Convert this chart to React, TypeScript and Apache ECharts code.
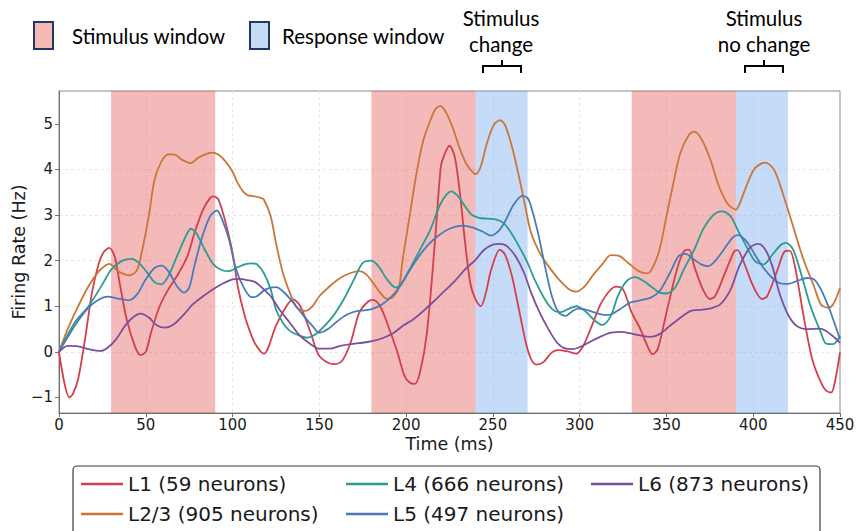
import React, { useEffect, useRef } from "react";
import * as echarts from "echarts";

const seriesNames = [
  "L1 (59 neurons)",
  "L2/3 (905 neurons)",
  "L4 (666 neurons)",
  "L5 (497 neurons)",
  "L6 (873 neurons)",
];
const seriesColors = ["#d2404b", "#cc7636", "#2a9d8f", "#4a7ab9", "#7b4f9e"];

const xTicks = [0, 50, 100, 150, 200, 250, 300, 350, 400, 450];
const yTicks = [-1, 0, 1, 2, 3, 4, 5];

const stimulusWindows = [
  [30, 90],
  [180, 240],
  [330, 390],
];
const responseWindows = [
  [240, 270],
  [390, 420],
];

const l1 = [
  [0, 0], [6, -1.0], [8, -0.92], [11, -0.6], [15, 0.28], [19, 1.3], [23, 1.95], [26, 2.2], [29, 2.28],
  [32, 2.1], [35, 1.5], [39, 0.71], [44, 0.1], [47, -0.07], [50, 0.0], [53, 0.42], [58, 1.0], [63, 1.37],
  [69, 1.73], [74, 2.1], [78, 2.6], [83, 3.12], [87, 3.37], [89, 3.41], [92, 3.33], [96, 2.83], [100, 2.17],
  [103, 1.44], [107, 0.79], [110, 0.45], [113, 0.18], [118, -0.04], [125, 0.57], [131, 1.0], [135, 1.15],
  [139, 1.0], [145, 0.42], [150, -0.09], [158, -0.27], [163, -0.2], [168, 0.2], [173, 0.86], [178, 1.1],
  [181, 1.14], [185, 1.0], [189, 0.64], [195, -0.01], [199, -0.52], [202, -0.67], [205, -0.7], [208, -0.45],
  [212, 0.42], [217, 2.6], [220, 4.06], [222, 4.32], [225, 4.52], [228, 4.28], [231, 3.48], [234, 2.39],
  [237, 1.5], [240, 1.15], [243, 1.0], [246, 1.3], [249, 1.8], [254, 2.24], [257, 2.13], [261, 1.66],
  [265, 0.93], [269, 0.2], [272, -0.16], [275, -0.28], [279, -0.23], [284, -0.01], [288, 0.04], [293, 0.01],
  [298, -0.04], [302, 0.13], [307, 0.57], [312, 1.04], [317, 1.33], [321, 1.43], [325, 1.37], [330, 0.86],
  [335, 0.5], [339, 0.13], [342, -0.05], [345, 0.06], [350, 0.86], [356, 1.8], [360, 2.2], [363, 2.24],
  [366, 1.88], [371, 1.37], [375, 1.16], [378, 1.22], [383, 1.66], [389, 2.2], [391, 2.23], [394, 2.02],
  [400, 1.44], [405, 1.16], [408, 1.22], [414, 1.8], [418, 2.2], [421, 2.22], [424, 1.88], [429, 0.79],
  [434, -0.16], [439, -0.67], [442, -0.85], [445, -0.89], [447, -0.67], [450, -0.01],
];

const l23 = [
  [0, 0], [5, 0.5], [11, 1.0], [17, 1.44], [23, 1.77], [27, 1.9], [29, 1.93], [34, 1.77], [38, 1.7],
  [41, 1.68], [45, 1.8], [48, 2.24], [52, 3.04], [55, 3.77], [59, 4.17], [63, 4.33], [66, 4.33], [71, 4.21],
  [76, 4.14], [80, 4.25], [85, 4.34], [88, 4.37], [92, 4.32], [96, 4.17], [100, 3.95], [103, 3.7], [106, 3.52],
  [109, 3.43], [113, 3.41], [116, 3.38], [118, 3.34], [122, 2.97], [125, 2.39], [129, 1.73], [133, 1.3],
  [137, 0.97], [142, 0.9], [146, 1.0], [150, 1.22], [156, 1.44], [162, 1.62], [168, 1.73], [173, 1.77],
  [177, 1.7], [181, 1.51], [185, 1.3], [189, 1.16], [193, 1.22], [196, 1.44], [198, 2.02], [202, 2.97],
  [206, 3.92], [210, 4.65], [214, 5.08], [217, 5.33], [220, 5.39], [223, 5.25], [227, 4.9], [231, 4.45],
  [235, 4.1], [239, 3.92], [240, 3.9], [243, 4.06], [246, 4.5], [250, 4.94], [254, 5.08], [257, 4.97],
  [261, 4.5], [265, 3.85], [269, 3.12], [272, 2.61], [277, 2.17], [282, 1.88], [288, 1.59], [294, 1.37],
  [298, 1.32], [303, 1.44], [308, 1.7], [313, 1.92], [318, 2.12], [323, 2.1], [328, 1.95], [334, 1.77],
  [339, 1.72], [342, 1.84], [346, 2.24], [350, 2.97], [354, 3.7], [358, 4.36], [363, 4.76], [366, 4.83],
  [370, 4.68], [375, 4.25], [380, 3.66], [385, 3.26], [390, 3.12], [392, 3.23], [396, 3.63], [401, 4.03],
  [407, 4.15], [412, 3.99], [417, 3.48], [423, 2.75], [429, 2.02], [435, 1.44], [439, 1.04], [443, 0.97],
  [446, 1.04], [450, 1.4],
];

const l4 = [
  [0, 0], [9, 0.64], [17, 1.0], [25, 1.48], [30, 1.8], [36, 1.99], [42, 2.04], [46, 1.95], [51, 1.73],
  [55, 1.53], [59, 1.48], [63, 1.66], [68, 2.1], [73, 2.53], [76, 2.7], [79, 2.61], [84, 2.24], [89, 1.92],
  [94, 1.79], [98, 1.77], [102, 1.84], [107, 1.92], [111, 1.94], [114, 1.92], [118, 1.73], [122, 1.37],
  [125, 0.93], [129, 0.64], [133, 0.46], [139, 0.35], [143, 0.31], [148, 0.39], [152, 0.53], [158, 0.79],
  [164, 1.15], [170, 1.59], [175, 1.95], [180, 2.0], [184, 1.88], [189, 1.59], [194, 1.41], [197, 1.48],
  [202, 1.81], [208, 2.24], [214, 2.68], [220, 3.26], [226, 3.52], [230, 3.41], [234, 3.19], [238, 3.0],
  [242, 2.94], [247, 2.92], [252, 2.9], [256, 2.83], [260, 2.64], [265, 2.32], [270, 1.95], [274, 1.59],
  [280, 1.15], [285, 0.91], [289, 0.87], [294, 0.95], [298, 1.0], [303, 0.9], [308, 0.71], [313, 0.59],
  [318, 0.79], [322, 1.22], [327, 1.55], [332, 1.64], [337, 1.55], [341, 1.44], [346, 1.3], [350, 1.28],
  [355, 1.41], [360, 1.81], [366, 2.24], [371, 2.68], [377, 3.0], [382, 3.08], [387, 2.97], [391, 2.68],
  [396, 2.32], [401, 1.99], [406, 1.92], [411, 2.13], [416, 2.35], [419, 2.39], [423, 2.24], [428, 1.66],
  [433, 1.0], [439, 0.42], [442, 0.18], [446, 0.17], [450, 0.35],
];

const l5 = [
  [0, 0], [9, 0.57], [17, 0.97], [23, 1.15], [28, 1.21], [34, 1.17], [40, 1.13], [45, 1.26], [50, 1.59],
  [55, 1.84], [59, 1.89], [63, 1.77], [68, 1.44], [72, 1.3], [75, 1.41], [78, 1.88], [82, 2.46], [87, 2.97],
  [91, 3.1], [94, 2.9], [98, 2.46], [102, 1.81], [107, 1.37], [111, 1.2], [114, 1.22], [119, 1.37],
  [125, 1.42], [129, 1.33], [135, 1.08], [141, 0.79], [146, 0.57], [150, 0.42], [155, 0.5], [160, 0.66],
  [166, 0.82], [172, 0.9], [176, 0.91], [181, 0.95], [186, 1.04], [191, 1.19], [196, 1.41], [200, 1.66],
  [206, 2.02], [212, 2.32], [218, 2.53], [225, 2.7], [233, 2.77], [238, 2.73], [244, 2.64], [249, 2.55],
  [253, 2.64], [257, 2.86], [262, 3.23], [267, 3.42], [270, 3.37], [272, 3.19], [276, 2.61], [280, 1.88],
  [284, 1.22], [288, 0.86], [292, 0.79], [295, 0.87], [299, 0.95], [303, 0.93], [309, 0.86], [315, 0.81],
  [318, 0.82], [323, 0.93], [329, 1.08], [335, 1.13], [341, 1.19], [346, 1.33], [352, 1.73], [357, 2.1],
  [361, 2.15], [366, 2.02], [370, 1.92], [374, 1.88], [378, 1.99], [383, 2.24], [388, 2.5], [391, 2.56],
  [396, 2.43], [401, 2.13], [406, 1.84], [411, 1.62], [415, 1.51], [420, 1.49], [425, 1.55], [431, 1.62],
  [435, 1.59], [439, 1.37], [444, 0.93], [448, 0.5], [450, 0.28],
];

const l6 = [
  [0, 0], [5, 0.13], [11, 0.12], [17, 0.06], [24, 0.02], [28, 0.09], [33, 0.28], [38, 0.57], [43, 0.77],
  [47, 0.84], [52, 0.75], [56, 0.59], [61, 0.53], [66, 0.6], [72, 0.82], [77, 1.04], [83, 1.22], [89, 1.38],
  [95, 1.51], [100, 1.59], [104, 1.6], [109, 1.57], [113, 1.53], [116, 1.44], [122, 1.22], [127, 0.93],
  [133, 0.64], [139, 0.35], [145, 0.17], [150, 0.07], [156, 0.07], [162, 0.13], [168, 0.17], [175, 0.2],
  [181, 0.24], [187, 0.31], [193, 0.42], [198, 0.57], [204, 0.71], [210, 0.9], [216, 1.11], [222, 1.33],
  [228, 1.55], [234, 1.81], [240, 2.02], [245, 2.24], [250, 2.35], [254, 2.37], [258, 2.32], [263, 2.1],
  [268, 1.73], [272, 1.3], [277, 0.86], [282, 0.5], [287, 0.2], [292, 0.07], [296, 0.06], [301, 0.12],
  [307, 0.24], [313, 0.35], [318, 0.42], [324, 0.44], [330, 0.4], [336, 0.35], [341, 0.33], [346, 0.39],
  [352, 0.57], [358, 0.75], [364, 0.9], [369, 0.92], [375, 0.95], [381, 1.04], [387, 1.37], [392, 1.88],
  [398, 2.28], [403, 2.37], [407, 2.24], [411, 1.88], [415, 1.3], [420, 0.82], [425, 0.57], [431, 0.5],
  [438, 0.51], [442, 0.46], [447, 0.31], [450, 0.2],
];

const seriesData = [l1, l23, l4, l5, l6];

const FONT = "DejaVu Sans";
const NOTE_FONT = "Lato";

export default function App() {
  const ref = useRef<HTMLDivElement>(null);

  useEffect(() => {
    if (!ref.current) return;
    const chart = echarts.init(ref.current, undefined, { renderer: "svg" });

    const lineSeries: any[] = seriesNames.map((name, i) => ({
      name,
      type: "line",
      data: seriesData[i],
      showSymbol: false,
      symbol: "none",
      smooth: 0.3,
      lineStyle: { color: seriesColors[i], width: 1.8 },
      itemStyle: { color: seriesColors[i] },
      z: 3,
    }));

    const bandSeries = {
      name: "bands",
      type: "line",
      data: [],
      silent: true,
      markArea: {
        silent: true,
        data: [
          ...stimulusWindows.map((w) => [
            { xAxis: w[0], itemStyle: { color: "rgba(226,82,80,0.4)" } },
            { xAxis: w[1] },
          ]),
          ...responseWindows.map((w) => [
            { xAxis: w[0], itemStyle: { color: "rgba(110,165,235,0.4)" } },
            { xAxis: w[1] },
          ]),
        ],
      },
      z: 2,
    };

    const noteText = (text: string, x: number, y: number, align: string) => ({
      type: "text",
      x,
      y,
      style: {
        text,
        fill: "#000",
        fontFamily: NOTE_FONT,
        fontSize: 20.5,
        align,
        verticalAlign: "middle",
      },
    });

    const bracket = (x1: number, x2: number) => [
      {
        type: "polyline",
        shape: { points: [[x1, 73], [x1, 66], [x2, 66], [x2, 73]] },
        style: { stroke: "#000", lineWidth: 2, fill: null },
      },
      {
        type: "line",
        shape: { x1: (x1 + x2) / 2, y1: 66, x2: (x1 + x2) / 2, y2: 60 },
        style: { stroke: "#000", lineWidth: 2 },
      },
    ];

    const legendPos = [
      [81, 474],
      [81, 504],
      [346, 474],
      [346, 504],
      [591, 474],
    ];
    const legends = seriesNames.map((name, i) => ({
      orient: "horizontal",
      icon: "rect",
      itemWidth: 42,
      itemHeight: 2.5,
      left: legendPos[i][0],
      top: legendPos[i][1],
      padding: 0,
      data: [name],
      textStyle: { fontFamily: FONT, fontSize: 20, color: "#1a1a1a" },
      selectedMode: false,
    }));

    chart.setOption({
      animation: false,
      backgroundColor: "#ffffff",
      grid: {
        left: 59,
        right: 17,
        top: 91,
        bottom: 118,
        show: true,
        borderColor: "#8a8a8a",
        borderWidth: 1,
        backgroundColor: "transparent",
        containLabel: false,
        outerBoundsMode: "none",
      },
      xAxis: {
        type: "value",
        min: 0,
        max: 450,
        interval: 50,
        name: "Time (ms)",
        nameLocation: "middle",
        nameGap: 22,
        nameMoveOverlap: false,
        nameTextStyle: { fontFamily: FONT, fontSize: 17.5, color: "#1a1a1a" },
        axisLine: { show: true, onZero: false, lineStyle: { color: "#6e6e6e", width: 1 } },
        axisTick: { show: true, length: 4, lineStyle: { color: "#6e6e6e" } },
        axisLabel: {
          fontFamily: FONT,
          fontSize: 15,
          color: "#1a1a1a",
          margin: 4,
          customValues: xTicks,
        },
        splitLine: {
          show: true,
          showMinLine: false,
          showMaxLine: false,
          lineStyle: { color: "#e8e8e8", type: [3, 3], width: 1 },
        },
      },
      yAxis: {
        type: "value",
        min: -1.34,
        max: 5.72,
        splitNumber: 7,
        name: "Firing Rate (Hz)",
        nameLocation: "middle",
        nameGap: 31,
        nameMoveOverlap: false,
        nameTextStyle: { fontFamily: FONT, fontSize: 17.5, color: "#1a1a1a" },
        axisLine: { show: true, onZero: false, lineStyle: { color: "#6e6e6e", width: 1 } },
        axisTick: { show: true, length: 4, lineStyle: { color: "#6e6e6e" }, customValues: yTicks },
        axisLabel: {
          fontFamily: FONT,
          fontSize: 15,
          color: "#1a1a1a",
          margin: 6,
          customValues: yTicks,
          formatter: (v: number) => String(v).replace("-", "\u2212"),
        },
        splitLine: {
          show: true,
          showMinLine: false,
          showMaxLine: false,
          lineStyle: { color: "#e8e8e8", type: [3, 3], width: 1 },
        },
      },
      legend: legends,
      graphic: [
        {
          type: "rect",
          shape: { x: 73, y: 466, width: 747, height: 80, r: 4 },
          style: { fill: "#fff", stroke: "#3a3a3a", lineWidth: 1.2 },
          z: -1,
        },
        {
          type: "rect",
          shape: { x: 34, y: 22, width: 19, height: 27 },
          style: { fill: "#f4b9b5", stroke: "#1f3864", lineWidth: 2 },
        },
        noteText("Stimulus window", 72, 36, "left"),
        {
          type: "rect",
          shape: { x: 250, y: 22, width: 19, height: 27 },
          style: { fill: "#c5dbf4", stroke: "#1f3864", lineWidth: 2 },
        },
        noteText("Response window", 282, 36, "left"),
        noteText("Stimulus", 501, 18, "center"),
        noteText("change", 501, 44, "center"),
        noteText("Stimulus", 764, 18, "center"),
        noteText("no change", 764, 44, "center"),
        ...bracket(483, 521),
        ...bracket(745, 783),
      ],
      series: [bandSeries, ...lineSeries],
    });

    return () => chart.dispose();
  }, []);

  return (
    <div
      ref={ref}
      style={{ position: "fixed", left: 0, top: 0, width: 857, height: 531, background: "#fff" }}
    />
  );
}
